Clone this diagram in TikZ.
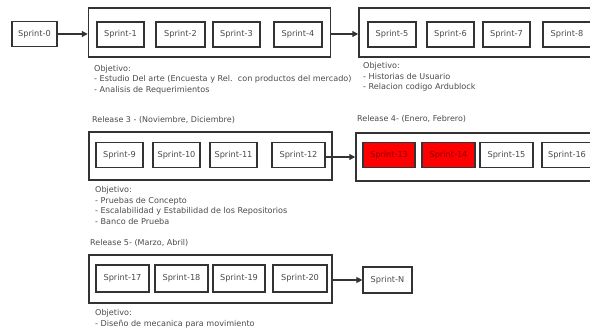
\documentclass[tikz,border=0pt]{standalone}
\usepackage{fontspec}
\setmainfont{DejaVu Sans}
\usetikzlibrary{arrows.meta}
\definecolor{ink}{HTML}{333333}
\definecolor{txt}{HTML}{4A4A4A}
\definecolor{hot}{HTML}{FF0000}
\definecolor{hottxt}{HTML}{8A0000}
\tikzset{
  sprintbox/.style={draw=ink, line width=1.2pt, inner sep=0pt, minimum height=25pt,
    font=\fontsize{8.2}{9}\selectfont, text=txt},
  activebox/.style={sprintbox, fill=hot, text=hottxt},
  releasebox/.style={draw=ink, line width=1.5pt, inner sep=0pt, fill=none},
  goal/.style={anchor=north west, inner sep=0pt, align=left, text=txt,
    font=\fontsize{8.1}{10.5}\selectfont},
  reltitle/.style={anchor=west, inner sep=0pt, text=txt, font=\fontsize{8}{9}\selectfont},
  flow/.style={draw=ink, line width=1.2pt, -{Triangle[length=6pt,width=6pt]}}
}
\begin{document}
\begin{tikzpicture}[x=1pt, y=-1pt]
\useasboundingbox (0,0) rectangle (590,328);
\clip (0,0) rectangle (590,328);

% ---------- row 1: Sprint-0, release 1, release 2 ----------
\node[sprintbox, minimum width=45pt] (s0) at (34.5,34) {Sprint-0};

\node[releasebox, minimum width=242pt, minimum height=49pt] (r1) at (209.5,32.5) {};
\node[sprintbox, minimum width=47pt] (s1) at (120.5,34.5) {Sprint-1};
\node[sprintbox, minimum width=49pt] (s2) at (180.5,34.5) {Sprint-2};
\node[sprintbox, minimum width=47pt] (s3) at (236.5,34.5) {Sprint-3};
\node[sprintbox, minimum width=48pt] (s4) at (298,34.5) {Sprint-4};

\node[releasebox, minimum width=261pt, minimum height=49pt] (r2) at (489.5,32.5) {};
\node[sprintbox, minimum width=48pt] (s5) at (392,34.5) {Sprint-5};
\node[sprintbox, minimum width=47pt] (s6) at (450.5,34.5) {Sprint-6};
\node[sprintbox, minimum width=47pt] (s7) at (506.5,34.5) {Sprint-7};
\node[sprintbox, minimum width=48pt] (s8) at (567,34.5) {Sprint-8};

\draw[flow] (s0.east) -- (r1.west |- s0.east);
\draw[flow] (r1.east |- s0.east) -- (r2.west |- s0.east);

\node[goal] (g1) at (94,65) {Objetivo:\\
- Estudio Del arte (Encuesta y Rel.\ \ con productos del mercado)\\
- Analisis de Requerimientos};
\node[goal] (g2) at (363,62.5) {Objetivo:\\
- Historias de Usuario\\
- Relacion codigo Ardublock};

% ---------- row 2: release 3 and release 4 ----------
\node[reltitle] (t3) at (92,120) {Release 3 - (Noviembre, Diciembre)};
\node[releasebox, minimum width=243pt, minimum height=48pt] (r3) at (210.5,156) {};
\node[sprintbox, minimum width=47pt] (s9)  at (119.5,155) {Sprint-9};
\node[sprintbox, minimum width=47pt] (s10) at (176.5,155) {Sprint-10};
\node[sprintbox, minimum width=47pt] (s11) at (233.5,155) {Sprint-11};
\node[sprintbox, minimum width=53pt] (s12) at (298.5,155) {Sprint-12};

\node[reltitle] (t4) at (357,119) {Release 4- (Enero, Febrero)};
\node[releasebox, minimum width=264pt, minimum height=48pt] (r4) at (488,157) {};
\node[activebox, minimum width=52pt] (s13) at (389,155) {Sprint-13};
\node[activebox, minimum width=53pt] (s14) at (448.5,155) {Sprint-14};
\node[sprintbox, minimum width=53pt] (s15) at (506.5,155) {Sprint-15};
\node[sprintbox, minimum width=50pt] (s16) at (567,155) {Sprint-16};

\draw[flow] (s12.east |- r4.west) -- (r4.west);

\node[goal] (g3) at (95,186.5) {Objetivo:\\
- Pruebas de Concepto\\
- Escalabilidad y Estabilidad de los Repositorios\\
- Banco de Prueba};

% ---------- row 3: release 5 and Sprint-N ----------
\node[reltitle] (t5) at (90,243) {Release 5- (Marzo, Abril)};
\node[releasebox, minimum width=243pt, minimum height=48pt] (r5) at (210.5,279) {};
\node[sprintbox, minimum width=53pt, minimum height=27pt] (s17) at (122.5,278.5) {Sprint-17};
\node[sprintbox, minimum width=53pt, minimum height=27pt] (s18) at (181.5,278.5) {Sprint-18};
\node[sprintbox, minimum width=52pt, minimum height=27pt] (s19) at (239,278.5) {Sprint-19};
\node[sprintbox, minimum width=54pt, minimum height=27pt] (s20) at (300,278.5) {Sprint-20};

\node[sprintbox, minimum width=49pt, minimum height=26pt] (sn) at (387.5,280) {Sprint-N};
\draw[flow] (r5.east |- sn.west) -- (sn.west);

\node[goal] (g5) at (95,309.5) {Objetivo:\\
- Diseño de mecanica para movimiento};
\end{tikzpicture}
\end{document}
